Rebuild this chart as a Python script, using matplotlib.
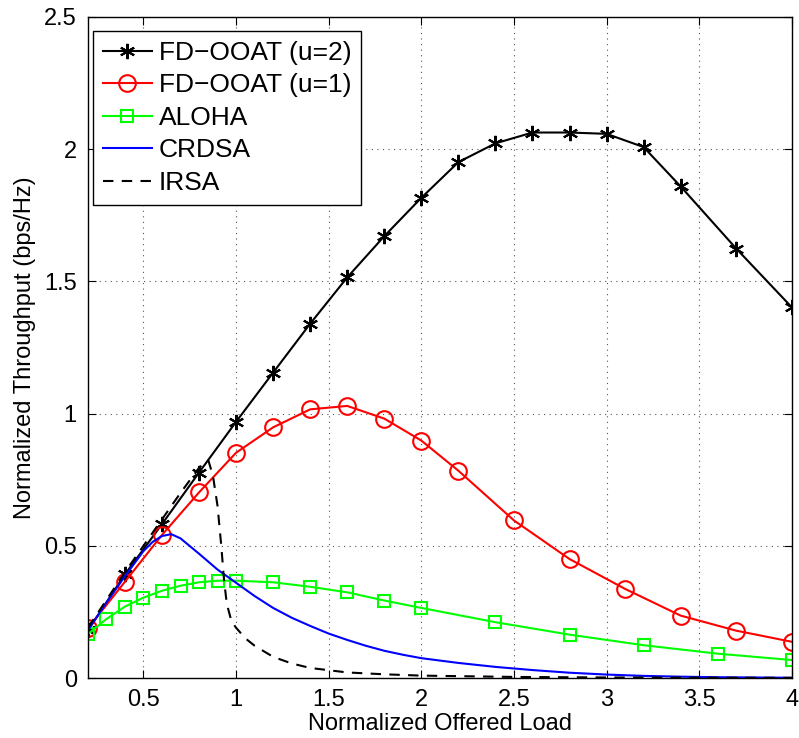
import matplotlib
matplotlib.use("Agg")
import matplotlib.pyplot as plt

plt.rcParams['font.family'] = ['Liberation Sans', 'DejaVu Sans']

# FD-OOAT (u=2)
x_u2 = [0.2, 0.4, 0.6, 0.8, 1.0, 1.2, 1.4, 1.6, 1.8, 2.0, 2.2, 2.4, 2.6, 2.8, 3.0, 3.2, 3.4, 3.7, 4.0]
y_u2 = [0.18, 0.392, 0.582, 0.777, 0.969, 1.155, 1.34, 1.515, 1.671, 1.816, 1.951, 2.022, 2.063, 2.063, 2.058, 2.008, 1.859, 1.624, 1.402]

# FD-OOAT (u=1)
x_u1 = [0.2, 0.4, 0.6, 0.8, 1.0, 1.2, 1.4, 1.6, 1.8, 2.0, 2.2, 2.5, 2.8, 3.1, 3.4, 3.7, 4.0]
y_u1 = [0.188, 0.364, 0.541, 0.702, 0.852, 0.948, 1.016, 1.029, 0.981, 0.898, 0.784, 0.596, 0.450, 0.337, 0.236, 0.179, 0.137]

# ALOHA
x_al = [0.2, 0.3, 0.4, 0.5, 0.6, 0.7, 0.8, 0.9, 1.0, 1.2, 1.4, 1.6, 1.8, 2.0, 2.4, 2.8, 3.2, 3.6, 4.0]
y_al = [0.166, 0.223, 0.270, 0.304, 0.330, 0.349, 0.362, 0.368, 0.368, 0.362, 0.345, 0.324, 0.293, 0.265, 0.211, 0.164, 0.124, 0.092, 0.068]

# CRDSA
x_cr = [0.2, 0.3, 0.4, 0.5, 0.55, 0.6, 0.65, 0.7, 0.8, 0.9, 1.0, 1.1, 1.2, 1.3, 1.4, 1.5, 1.6, 1.7, 1.8, 1.9, 2.0,
        2.2, 2.4, 2.6, 2.8, 3.0, 3.2, 3.4, 3.6, 3.8, 4.0]
y_cr = [0.18, 0.285, 0.385, 0.48, 0.515, 0.537, 0.544, 0.528, 0.47, 0.41, 0.36, 0.31, 0.265, 0.228, 0.197, 0.168, 0.144, 0.122, 0.103, 0.088, 0.075,
        0.057, 0.042, 0.030, 0.020, 0.013, 0.008, 0.005, 0.003, 0.002, 0.001]

# IRSA
x_ir = [0.2, 0.3, 0.4, 0.5, 0.6, 0.7, 0.8, 0.85, 0.875, 0.9, 0.92, 0.935, 0.95, 0.975, 1.0, 1.05, 1.1, 1.2, 1.3, 1.4,
        1.6, 1.8, 2.0, 2.5, 3.0, 3.5, 4.0]
y_ir = [0.19, 0.295, 0.4, 0.5, 0.6, 0.7, 0.795, 0.824, 0.765, 0.65, 0.50, 0.37, 0.28, 0.215, 0.19, 0.15, 0.122, 0.08, 0.055, 0.038,
        0.021, 0.014, 0.009, 0.004, 0.002, 0.001, 0.0005]

xticks = [0.5, 1, 1.5, 2, 2.5, 3, 3.5, 4]
xticklabels = ['0.5', '1', '1.5', '2', '2.5', '3', '3.5', '4']
yticks = [0, 0.5, 1, 1.5, 2, 2.5]
yticklabels = ['0', '0.5', '1', '1.5', '2', '2.5']

fig = plt.figure(figsize=(7.99, 7.38), dpi=100)
ax = fig.add_axes([0.110, 0.0813, 0.881, 0.8957])

lw = 1.5
ax.plot(x_u2, y_u2, color='black', lw=lw, marker=(6, 2, 0), markersize=11, markeredgewidth=1.5, label='FD−OOAT (u=2)')
ax.plot(x_u1, y_u1, color='#ff0000', lw=lw, marker='o', markersize=12, markerfacecolor='none', markeredgewidth=1.5, label='FD−OOAT (u=1)')
ax.plot(x_al, y_al, color='#00ff00', lw=lw, marker='s', markersize=9, markerfacecolor='none', markeredgewidth=1.5, label='ALOHA')
ax.plot(x_cr, y_cr, color='#0000ff', lw=lw, label='CRDSA')
ax.plot(x_ir, y_ir, color='black', lw=lw, linestyle=(0, (5, 4)), label='IRSA')

ax.set_xlim(0.2, 4)
ax.set_ylim(0, 2.5)
ax.set_xticks(xticks)
ax.set_xticklabels(xticklabels)
ax.set_yticks(yticks)
ax.set_yticklabels(yticklabels)
ax.tick_params(direction='in', length=6, width=0.8, labelsize=17, top=True, right=True, pad=8)
ax.grid(True, linestyle=(0, (1, 4)), color='#555555', linewidth=0.8)
for s in ax.spines.values():
    s.set_linewidth(1.0)

ax.set_xlabel('Normalized Offered Load', fontsize=17, labelpad=1)
ax.set_ylabel('Normalized Throughput (bps/Hz)', fontsize=17, labelpad=6)

leg = ax.legend(loc='upper left', bbox_to_anchor=(0.0071, 0.9788), fontsize=19, fancybox=False,
                framealpha=1, edgecolor='black',
                handlelength=1.85, handletextpad=0.26, borderpad=0.38, labelspacing=0.32,
                borderaxespad=0.0)
leg.get_frame().set_linewidth(1.0)

fig.savefig('out.png', dpi=100)
